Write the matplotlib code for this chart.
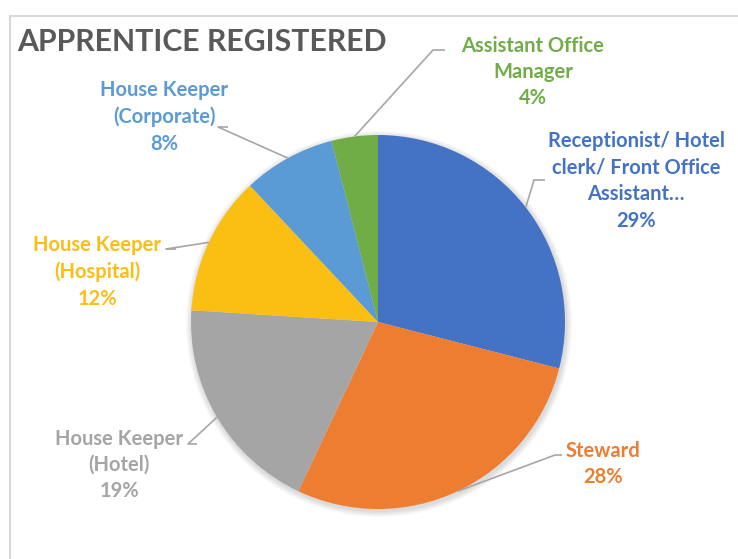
import numpy as np
import matplotlib.pyplot as plt
from matplotlib.patches import Rectangle

labels = ["Receptionist/ Hotel\nclerk/ Front Office\nAssistant\u2026",
          "Steward",
          "House Keeper\n(Hotel)",
          "House Keeper\n(Hospital)",
          "House Keeper\n(Corporate)",
          "Assistant Office\nManager"]
shares = [29, 28, 19, 12, 8, 4]
colors = ["#4472C4", "#ED7D31", "#A5A5A5", "#FBBF14", "#5B9BD5", "#70AD47"]
text_colors = ["#4472C4", "#ED7D31", "#A5A5A5", "#FBBE14", "#5B9BD5", "#70AD47"]

W, H = 738, 559
cx, cy, R = 378, H - 322, 187

# label centre (px from top-left), elbow point, horizontal end
label_pos = [(636, 181), (603, 464), (119, 465), (97, 272), (164, 117), (533, 72)]
elbow = [(534, 180), (555, 455), (188, 444), (166, 249), (218, 127), (433, 50)]
hend = [(545, 180), (562, 455), (197, 444), (176, 249), (228, 127), (445, 50)]

plt.rcParams['font.family'] = ['Lato', 'DejaVu Sans']

fig = plt.figure(figsize=(W / 100, H / 100), dpi=100)
ax = fig.add_axes([0, 0, 1, 1])

# soft shadow under the pie
for k in range(6):
    ax.add_patch(plt.Circle((cx + 1, cy - 2), R + 1 + k, color="black",
                            alpha=0.025, lw=0, zorder=0))

wedges, _ = ax.pie(shares, colors=colors, startangle=90, counterclock=False,
                   center=(cx, cy), radius=R, frame=True,
                   wedgeprops=dict(linewidth=0))
ax.set_xlim(0, W)
ax.set_ylim(0, H)
ax.set_aspect("equal")
ax.axis("off")

for i, w in enumerate(wedges):
    mid = np.deg2rad((w.theta1 + w.theta2) / 2)
    ex, ey = cx + R * np.cos(mid), cy + R * np.sin(mid)
    ax.plot([ex, elbow[i][0], hend[i][0]],
            [ey, H - elbow[i][1], H - hend[i][1]],
            color="#A6A6A6", lw=1.2, solid_capstyle="butt")
    lx, ly = label_pos[i]
    ax.text(lx, H - ly, labels[i] + "\n%d%%" % shares[i], ha="center", va="center",
            fontsize=14.5, fontweight="bold", color=text_colors[i], linespacing=1.4)

ax.text(17, H - 42, "APPRENTICE REGISTERED", ha="left", va="center",
        fontsize=21.8, fontweight="bold", color="#595959")

fig.patches.append(Rectangle((10 / W, -0.1), 1.2, (H - 16) / H + 0.1,
                             transform=fig.transFigure, fill=False,
                             edgecolor="#D9D9D9", lw=1.5))

fig.savefig("out.png", dpi=100)
